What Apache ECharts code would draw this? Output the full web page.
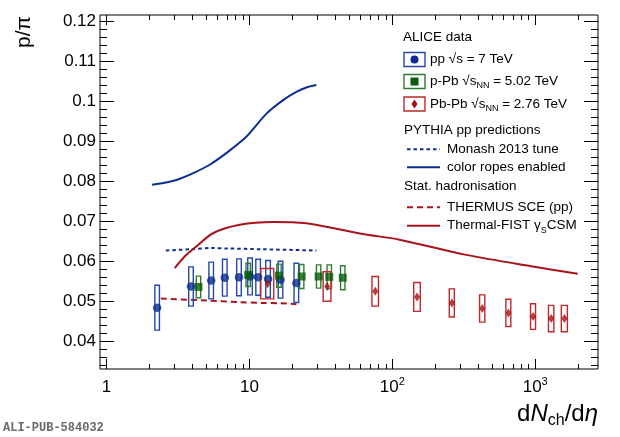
<!DOCTYPE html>
<html><head><meta charset="utf-8">
<script src="https://cdn.jsdelivr.net/npm/echarts@6/dist/echarts.min.js"></script>
<style>html,body{margin:0;padding:0;background:#fff}#c{width:620px;height:437px}</style>
</head><body><div id="c"></div>
<script>
// ---- data ----
const ppX = [2.26, 3.90, 5.40, 6.72, 8.45, 10.1, 11.5, 13.5, 16.5, 21.3];
const ppY = [0.0484, 0.0537, 0.0552, 0.0559, 0.0560, 0.0562, 0.0560, 0.0556, 0.0554, 0.0546];
const ppSys = [0.0056, 0.0049, 0.0046, 0.0046, 0.0046, 0.0046, 0.0045, 0.0046, 0.0046, 0.0049];

const pPbX = [4.4, 9.8, 16.1, 23.2, 30.5, 36.2, 45.0];
const pPbY = [0.0536, 0.0566, 0.0564, 0.0562, 0.0562, 0.0561, 0.0559];
const pPbSys = [0.0027, 0.0029, 0.0029, 0.0030, 0.0029, 0.0030, 0.0030];

const PbPbX = [13.4, 35, 76, 149, 261, 426, 649, 966, 1294, 1601];
const PbPbY = [0.0544, 0.0537, 0.0525, 0.0511, 0.0496, 0.0482, 0.0471, 0.0462, 0.0457, 0.0457];
const PbPbSys = [0.0038, 0.0037, 0.0037, 0.0036, 0.0035, 0.0034, 0.0034, 0.0032, 0.0033, 0.0033];
const PbPbSysX = [1.4, 2.2, 4.0, 7.9, 10.6, 18, 26, 39, 56, 78];

const ropesX = [2.08, 3.08, 5.27, 9.26, 13.1, 17.3, 21.3, 25.0, 29.4];
const ropesY = [0.0791, 0.0803, 0.0841, 0.0907, 0.0968, 0.1003, 0.1023, 0.1034, 0.1040];
const monashX = [2.6, 3.9, 5.4, 7.0, 12.4, 29.4];
const monashY = [0.0627, 0.0630, 0.0633, 0.0632, 0.0630, 0.0627];
const thermusX = [2.4, 5.0, 8.5, 12, 16.5, 21.3];
const thermusY = [0.0507, 0.0502, 0.0498, 0.0496, 0.0495, 0.0493];
const fistX = [3.0, 3.52, 4.25, 5.56, 8.54, 14.6, 25, 38.4, 62.3, 112, 329, 961, 1983];
const fistY = [0.0583, 0.0612, 0.0637, 0.0670, 0.0691, 0.0698, 0.0695, 0.0683, 0.0668, 0.0654, 0.0616, 0.0587, 0.0569];

const xMajorTicks = [1, 10, 100, 1000];
const xTickLabels = ['1', '10', '10{s|2}', '10{s|3}'];
const xMinorTicks = [2,3,4,5,6,7,8,9,20,30,40,50,60,70,80,90,200,300,400,500,600,700,800,900,2000];
const yMajorTicks = [0.04, 0.05, 0.06, 0.07, 0.08, 0.09, 0.10, 0.11, 0.12];
const yTickLabels = ['0.04', '0.05', '0.06', '0.07', '0.08', '0.09', '0.1', '0.11', '0.12'];
const yMinorTicks = [0.034,0.036,0.038,0.042,0.044,0.046,0.048,0.052,0.054,0.056,0.058,0.062,0.064,0.066,0.068,
  0.072,0.074,0.076,0.078,0.082,0.084,0.086,0.088,0.092,0.094,0.096,0.098,0.102,0.104,0.106,0.108,0.112,0.114,0.116,0.118];

const X_MIN = 0.9, X_MAX = 2750, Y_MIN = 0.0331, Y_MAX = 0.1215;

// ---- styles ----
const FONT = 'Liberation Sans';
const BLUE = '#0b2c8e', BLUE_BOX = '#2548a8', BLUE_LINE = '#0d2f94';
const GREEN = '#0a5c0a', GREEN_BOX = '#2e7d32';
const RED = '#a10e12', RED_BOX = '#c0282c', RED_LINE = '#a8141c';
const GRID = {left: 100, top: 15, width: 498, height: 354};

const lg = Math.log10;
const chart = echarts.init(document.getElementById('c'), null, {renderer: 'canvas'});

function zip(xs, ys) { return xs.map((x, i) => [x, ys[i]]); }

function boxSeries(xs, ys, sys, color, halfPx, xErr) {
  return {
    type: 'custom', xAxisIndex: 0, yAxisIndex: 0, z: 3,
    data: xs.map((x, i) => [x, ys[i], sys[i], xErr ? xErr[i] : 0]),
    encode: {x: 0, y: 1},
    renderItem: function (params, api) {
      const x = api.value(0), y = api.value(1), s = api.value(2), xe = api.value(3);
      const t = api.coord([x, y + s]);
      const b = api.coord([x, y - s]);
      let l, r;
      if (xe) { l = api.coord([x - xe, y])[0]; r = api.coord([x + xe, y])[0]; }
      else { l = t[0] - halfPx; r = t[0] + halfPx; }
      return {type: 'rect', shape: {x: l, y: t[1], width: r - l, height: b[1] - t[1]},
        style: {fill: 'none', stroke: color, lineWidth: 1.4}};
    }
  };
}

function xTickAxis(gridIndex, pos, values, len, labels) {
  return {
    type: 'value', gridIndex: gridIndex, position: pos, min: lg(X_MIN), max: lg(X_MAX),
    axisLine: {show: false, onZero: false}, splitLine: {show: false},
    axisTick: {show: true, inside: true, length: len, customValues: values.map(lg), lineStyle: {color: '#000', width: 1}},
    axisLabel: labels ? {
      show: true, customValues: values.map(lg), margin: 7,
      fontFamily: FONT, fontSize: 17, color: '#000', lineHeight: 22,
      formatter: function (v) {
        const i = values.findIndex(t => Math.abs(lg(t) - v) < 1e-6);
        return i >= 0 ? xTickLabels[i] : '';
      },
      rich: {s: {fontFamily: FONT, fontSize: 11, color: '#000', verticalAlign: 'top', lineHeight: 11}}
    } : {show: false}
  };
}
function yTickAxis(gridIndex, pos, values, len, labels) {
  return {
    type: 'value', gridIndex: gridIndex, position: pos, min: Y_MIN, max: Y_MAX,
    axisLine: {show: false, onZero: false}, splitLine: {show: false},
    axisTick: {show: true, inside: true, length: len, customValues: values, lineStyle: {color: '#000', width: 1}},
    axisLabel: labels ? {
      show: true, customValues: values, margin: 4,
      fontFamily: FONT, fontSize: 17, color: '#000',
      formatter: function (v) {
        const i = values.findIndex(t => Math.abs(t - v) < 1e-9);
        return i >= 0 ? yTickLabels[i] : '';
      }
    } : {show: false}
  };
}

const LX = 404; // legend left
function legText(x, y, text, rich) {
  return {type: 'text', x: x, y: y, z: 20, style: {text: text, fill: '#000', font: '13.5px ' + FONT,
    align: 'left', verticalAlign: 'middle', lineHeight: 18, rich: rich || {}}};
}
const subRich = {n: {fontFamily: FONT, fontSize: 9, fill: '#000', verticalAlign: 'bottom', lineHeight: 9}};

const grids = [0, 1, 2, 3, 4].map(i => Object.assign({}, GRID, i === 0 ?
  {show: true, borderColor: '#000', borderWidth: 1, backgroundColor: 'transparent'} : {show: false}));

const option = {
  animation: false,
  backgroundColor: '#fff',
  grid: grids,
  xAxis: [
    {type: 'log', gridIndex: 0, logBase: 10, min: X_MIN, max: X_MAX, show: false, axisLine: {onZero: false}},
    xTickAxis(1, 'bottom', xMajorTicks, 10, true),
    xTickAxis(2, 'bottom', xMinorTicks, 5, false),
    xTickAxis(3, 'top', xMajorTicks, 10, false),
    xTickAxis(4, 'top', xMinorTicks, 5, false)
  ],
  yAxis: [
    {type: 'value', gridIndex: 0, min: Y_MIN, max: Y_MAX, show: false, axisLine: {onZero: false}},
    yTickAxis(1, 'left', yMajorTicks, 14, true),
    yTickAxis(2, 'left', yMinorTicks, 7, false),
    yTickAxis(3, 'right', yMajorTicks, 14, false),
    yTickAxis(4, 'right', yMinorTicks, 7, false)
  ],
  series: [
    {type: 'line', xAxisIndex: 0, yAxisIndex: 0, data: zip(ropesX, ropesY), showSymbol: false, symbol: 'none',
      smooth: 0.25, lineStyle: {color: BLUE_LINE, width: 2}, z: 2},
    {type: 'line', xAxisIndex: 0, yAxisIndex: 0, data: zip(monashX, monashY), showSymbol: false, symbol: 'none',
      smooth: 0.3, lineStyle: {color: BLUE_LINE, width: 2, type: [3.5, 3]}, z: 2},
    {type: 'line', xAxisIndex: 0, yAxisIndex: 0, data: zip(thermusX, thermusY), showSymbol: false, symbol: 'none',
      smooth: 0.3, lineStyle: {color: RED_LINE, width: 2, type: [6, 4]}, z: 2},
    {type: 'line', xAxisIndex: 0, yAxisIndex: 0, data: zip(fistX, fistY), showSymbol: false, symbol: 'none',
      smooth: 0.3, lineStyle: {color: RED_LINE, width: 2}, z: 2},
    boxSeries(ppX, ppY, ppSys, BLUE_BOX, 2.3, null),
    boxSeries(pPbX, pPbY, pPbSys, GREEN_BOX, 2.2, null),
    boxSeries(PbPbX, PbPbY, PbPbSys, RED_BOX, 0, PbPbSysX),
    {type: 'scatter', xAxisIndex: 0, yAxisIndex: 0, data: zip(ppX, ppY), symbol: 'circle', symbolSize: 8.5,
      itemStyle: {color: BLUE}, z: 5},
    {type: 'scatter', xAxisIndex: 0, yAxisIndex: 0, data: zip(pPbX, pPbY), symbol: 'rect', symbolSize: 8,
      itemStyle: {color: GREEN}, z: 6},
    {type: 'scatter', xAxisIndex: 0, yAxisIndex: 0, data: zip(PbPbX, PbPbY), symbol: 'path://M0,-10L6,0L0,10L-6,0Z',
      symbolSize: [6, 9], itemStyle: {color: RED}, z: 7}
  ],
  graphic: [
    // axis titles
    {type: 'text', x: 24, y: 32, rotation: Math.PI / 2, z: 20,
      style: {text: 'p/π', font: '21px ' + FONT, fill: '#000', align: 'center', verticalAlign: 'middle'}},
    {type: 'text', x: 598, y: 414, z: 20,
      style: {text: 'd{i|N}{sub|ch}/d{i|η}', font: '24px ' + FONT, fill: '#000', align: 'right', verticalAlign: 'middle',
        lineHeight: 30,
        rich: {i: {fontFamily: FONT, fontSize: 24, fontStyle: 'italic', fill: '#000', lineHeight: 30},
               sub: {fontFamily: FONT, fontSize: 16, fill: '#000', verticalAlign: 'bottom', lineHeight: 16}}}},
    {type: 'text', x: 3, y: 428, z: 20,
      style: {text: 'ALI-PUB-584032', font: 'bold 12px "Liberation Mono"', fill: '#6a6a6a', align: 'left', verticalAlign: 'middle'}},
    // legend
    legText(LX - 1, 37, 'ALICE data'),
    {type: 'rect', z: 20, shape: {x: LX, y: 52.5, width: 21, height: 14}, style: {fill: 'none', stroke: BLUE_BOX, lineWidth: 1.4}},
    {type: 'circle', z: 21, shape: {cx: LX + 10.5, cy: 59.5, r: 4}, style: {fill: BLUE}},
    legText(LX + 26, 59.5, 'pp √s = 7 TeV'),
    {type: 'rect', z: 20, shape: {x: LX, y: 74.5, width: 21, height: 14}, style: {fill: 'none', stroke: GREEN_BOX, lineWidth: 1.4}},
    {type: 'rect', z: 21, shape: {x: LX + 6.5, y: 77.5, width: 8, height: 8}, style: {fill: GREEN}},
    legText(LX + 26, 81.5, 'p-Pb √s{n|NN} = 5.02 TeV', subRich),
    {type: 'rect', z: 20, shape: {x: LX, y: 97, width: 21, height: 14}, style: {fill: 'none', stroke: RED_BOX, lineWidth: 1.4}},
    {type: 'polygon', z: 21, shape: {points: [[LX + 10.5, 99.5], [LX + 13.5, 104], [LX + 10.5, 108.5], [LX + 7.5, 104]]}, style: {fill: RED}},
    legText(LX + 26, 104, 'Pb-Pb √s{n|NN} = 2.76 TeV', subRich),
    legText(LX, 130, 'PYTHIA pp predictions'),
    {type: 'line', z: 20, shape: {x1: LX + 3, y1: 149.3, x2: LX + 36, y2: 149.3}, style: {stroke: BLUE_LINE, lineWidth: 2, lineDash: [3.5, 3]}},
    legText(LX + 43, 149.3, 'Monash 2013 tune'),
    {type: 'line', z: 20, shape: {x1: LX + 3, y1: 167.3, x2: LX + 36, y2: 167.3}, style: {stroke: BLUE_LINE, lineWidth: 2}},
    legText(LX + 43, 167.3, 'color ropes enabled'),
    legText(LX, 186.7, 'Stat. hadronisation'),
    {type: 'line', z: 20, shape: {x1: LX + 3, y1: 207.3, x2: LX + 36, y2: 207.3}, style: {stroke: RED_LINE, lineWidth: 2, lineDash: [6, 4]}},
    legText(LX + 43, 207.3, 'THERMUS SCE (pp)'),
    {type: 'line', z: 20, shape: {x1: LX + 3, y1: 225.7, x2: LX + 36, y2: 225.7}, style: {stroke: RED_LINE, lineWidth: 2}},
    legText(LX + 43, 225.7, 'Thermal-FIST γ{n|S}CSM', subRich)
  ]
};
chart.setOption(option);
</script>
</body></html>
